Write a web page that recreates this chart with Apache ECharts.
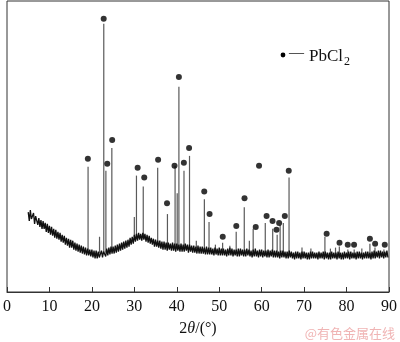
<!DOCTYPE html>
<html>
<head>
<meta charset="utf-8">
<script src="https://cdn.jsdelivr.net/npm/echarts@6/dist/echarts.min.js"></script>
<style>
  html, body { margin: 0; padding: 0; background: #fff; }
  #chart { width: 400px; height: 342px; }
</style>
</head>
<body>
<div id="chart"></div>
<script>
// XRD pattern: noisy background trace sampled every 0.25 deg from 5 deg
const traceStart = 5;
const traceStep = 0.25;
const traceIntensity = [
  81, 72, 83, 74,  75, 80, 69, 77,  76, 68, 75, 66,  73, 64, 72, 64,  70, 61, 69, 60,
  67, 58, 66, 57,  64, 55, 63, 54,  61, 53, 60, 51,  58, 50, 57, 48,  55, 47, 54, 45,
  53, 45, 52, 43,  50, 42, 49, 41,  48, 40, 47, 39,  46, 38, 45, 37,  44, 37, 43, 36,
  43, 35, 42, 34,  42, 34, 41, 35,  36, 42, 35, 41,  43, 36, 44, 37,  45, 38, 46, 39,
  46, 39, 47, 40,  48, 41, 49, 42,  50, 43, 51, 44,  52, 45, 53, 46,  55, 48, 56, 49,
  58, 51, 59, 52,  60, 53, 59, 52,  60, 53, 59, 51,  58, 50, 57, 49,  55, 48, 54, 46,
  53, 46, 52, 45,  52, 44, 51, 43,  51, 43, 50, 42,  50, 43, 49, 42,  50, 42, 49, 41,
  49, 42, 48, 41,  49, 41, 48, 41,  49, 42, 48, 40,  48, 41, 47, 40,  47, 40, 46, 39,
  47, 39, 46, 39,  46, 39, 45, 38,  46, 38, 45, 38,  45, 38, 44, 37,  45, 38, 44, 37,
  45, 37, 44, 37,  44, 37, 43, 36,  44, 37, 45, 37,  44, 36, 43, 37,  43, 36, 44, 36,
  44, 37, 43, 36,  43, 36, 44, 37,  43, 36, 42, 35,  43, 36, 44, 36,  42, 35, 43, 36,
  43, 35, 42, 36,  42, 35, 43, 35,  42, 36, 43, 35,  42, 35, 42, 35,  41, 34, 42, 35,
  42, 35, 41, 34,  41, 34, 42, 35,  41, 34, 40, 33,  41, 34, 41, 34,  40, 33, 41, 34,
  41, 34, 40, 33,  40, 33, 41, 34,  41, 34, 40, 34,  40, 33, 41, 34,  40, 34, 41, 33,
  41, 34, 40, 33,  40, 33, 41, 34,  40, 34, 40, 33,  41, 34, 40, 33,  40, 33, 41, 34,
  40, 34, 41, 33,  41, 34, 40, 34,  40, 33, 41, 34,  41, 34, 40, 33,  40, 34, 41, 34,
  41, 34, 40, 33,  41, 34, 42, 34,  41, 35, 42, 34,  42, 35, 41, 34,  41, 35, 42, 35
];

// Diffraction peaks: position (2theta), top intensity, intensity at the foot
const peakTheta = [19.1, 21.8, 22.8, 23.3, 24.7, 27.4, 30.0, 30.5, 32.1, 35.5, 37.8, 39.6, 40.1, 40.5, 41.7, 43.0,
  44.6, 46.5, 47.6, 49.1, 50.8, 52.5, 54.0, 55.9, 57.1, 58.0, 60.85, 62.6, 63.65, 64.35, 65.1, 66.45,
  69.5, 71.6, 74.9, 76.2, 77.4, 78.3, 80.3, 81.8, 83.6, 85.5, 86.7, 88.8];
const peakTop = [127, 56, 272, 123, 146, 50, 76, 118, 107, 126, 79, 128, 100, 208, 123, 138,
  52, 94, 71, 48, 50, 47, 61, 86, 52, 64, 70, 64, 58, 68, 70, 116,
  45, 44, 56, 44, 45, 46, 43, 43, 44, 49, 45, 43];
const peakFoot = [41, 39, 39, 40, 42, 47, 56, 56, 57, 50, 47, 47, 46, 46, 46, 45,
  44, 43, 43, 42, 41, 40, 40, 40, 39, 40, 39, 39, 39, 39, 38, 38,
  38, 37, 37, 37, 37, 37, 37, 37, 37, 37, 37, 37];

// PbCl2 markers
const markTheta = [19.05, 22.78, 23.62, 24.78, 30.78, 32.34, 35.6, 37.7, 39.47, 40.5, 41.67, 42.9,
  46.47, 47.73, 50.83, 54.02, 55.96, 58.6, 59.38, 61.16, 62.56, 63.49, 64.12, 65.45, 66.38,
  75.31, 78.34, 80.28, 81.77, 85.5, 86.73, 89.0];
const markIntensity = [135, 277, 130, 154, 126, 116, 134, 90, 128, 218, 131, 146,
  102, 79, 56, 67, 95, 66, 128, 77, 72, 63, 70, 77, 123,
  59, 50, 48, 48, 54, 49, 48];

const xTicks = [0, 10, 20, 30, 40, 50, 60, 70, 80, 90];

const traceData = traceIntensity.map((v, i) => [traceStart + i * traceStep, v]);
const peakData = peakTheta.map((t, i) => [t, peakFoot[i], peakTop[i]]);
const markData = markTheta.map((t, i) => [t, markIntensity[i]]);

const serif = 'Liberation Serif';
const chart = echarts.init(document.getElementById('chart'), null, { renderer: 'canvas' });

chart.setOption({
  animation: false,
  backgroundColor: '#fff',
  grid: {
    left: 4, right: 10, top: 1, bottom: 46,
    show: true, borderColor: '#333', borderWidth: 1, backgroundColor: 'transparent'
  },
  xAxis: {
    type: 'value',
    min: xTicks[0], max: xTicks[xTicks.length - 1], interval: 10,
    axisLine: { show: true, lineStyle: { color: '#333', width: 1 } },
    axisTick: { show: true, inside: true, length: 5, lineStyle: { color: '#333' } },
    splitLine: { show: false },
    axisLabel: { color: '#111', fontFamily: serif, fontSize: 16, margin: 7 },
    name: '2{i|θ}/(°)',
    nameLocation: 'middle',
    nameGap: 29,
    nameTextStyle: {
      color: '#111', fontFamily: serif, fontSize: 16,
      rich: { i: { fontStyle: 'italic', fontFamily: serif, fontSize: 16, color: '#111' } }
    }
  },
  yAxis: {
    type: 'value', min: 0, max: 295,
    show: false
  },
  series: [
    {
      type: 'custom',
      name: 'peaks',
      data: peakData,
      z: 1,
      renderItem: function (params, api) {
        const foot = api.coord([api.value(0), api.value(1)]);
        const top = api.coord([api.value(0), api.value(2)]);
        return {
          type: 'line',
          shape: { x1: foot[0], y1: foot[1], x2: top[0], y2: top[1] },
          style: { stroke: '#5a5a5a', lineWidth: 1.2 }
        };
      }
    },
    {
      type: 'line',
      name: 'trace',
      data: traceData,
      showSymbol: false,
      symbol: 'none',
      z: 2,
      lineStyle: { color: '#111', width: 1.3 }
    },
    {
      type: 'scatter',
      name: 'PbCl2',
      data: markData,
      symbol: 'circle',
      symbolSize: 6,
      z: 3,
      itemStyle: { color: '#000' }
    }
  ],
  graphic: [
    { type: 'circle', shape: { cx: 283, cy: 55, r: 2.4 }, style: { fill: '#000' } },
    { type: 'text', left: 289, top: 46, style: { text: '—', font: '15px Liberation Serif', fill: '#111' } },
    { type: 'text', left: 309, top: 48, style: { text: 'PbCl', font: '17px Liberation Serif', fill: '#111' } },
    { type: 'text', left: 344, top: 56, style: { text: '2', font: '12px Liberation Serif', fill: '#111' } },
    { type: 'text', right: 5, top: 327, style: { text: '@有色金属在线', font: '13px "Noto Sans CJK SC", sans-serif', fill: '#f0b4b4' } }
  ]
});
</script>
</body>
</html>
